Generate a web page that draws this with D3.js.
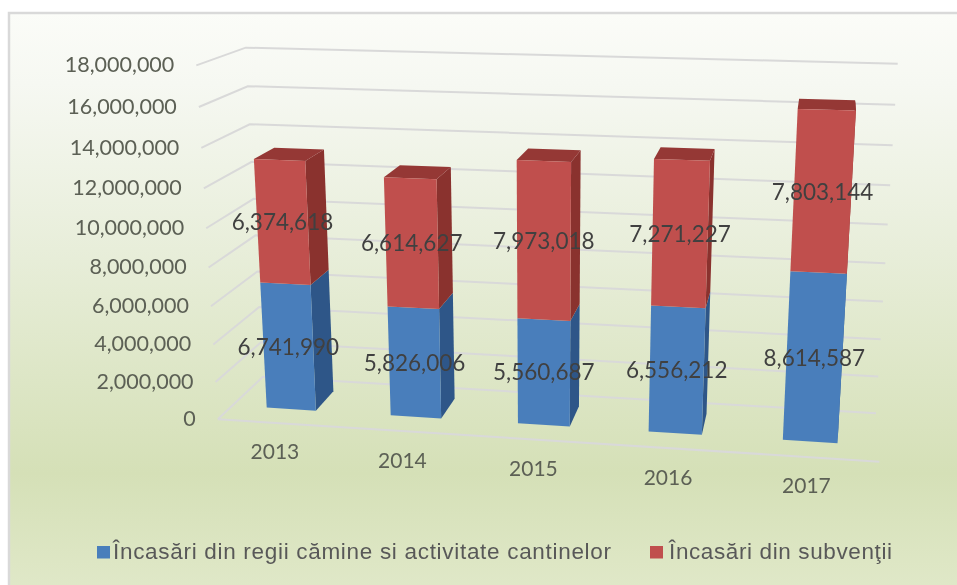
<!DOCTYPE html>
<html><head><meta charset="utf-8">
<style>html,body{margin:0;padding:0;background:#fff}svg{display:block}text{font-family:Lato,"Open Sans",sans-serif}</style>
<script src="https://cdn.jsdelivr.net/npm/d3@7"></script>
</head><body><svg id="c" width="957" height="585"></svg>
<script>
const years=["2013","2014","2015","2016","2017"];
const regii=[6741990,5826006,5560687,6556212,8614587];
const subventii=[6374618,6614627,7973018,7271227,7803144];
const seriesNames=["Încasări din regii cămine si activitate cantinelor","Încasări din subvenţii"];
const yTicks=[0,2e6,4e6,6e6,8e6,10e6,12e6,14e6,16e6,18e6];
const frontColors=["#4a7ebb","#c0504d"],sideColors=["#2f5788","#8a302e"],topColors=["#2f5788","#953735"];

// camera calibration: box points [x-frac,y-frac,depth-frac] -> picture
const calib=[[0,0,0,217,419],[1,0,0,880,462],[0,0,1,264,379],[1,0,1,875,413],[0,1,0,197,66],[0,1,1,245,47],[1,1,1,898,64],
  [0,.8889,0,199,108],[0,.5556,0,207,228],[0,.2222,0,212,343],[1,.5556,1,888,224],[1,.8889,1,895,105],[0,.8889,1,247,86],[0,.2222,1,260,306]];
function solveCamera(pts){
  const A=[],b=[];
  pts.forEach(([X,Y,Z,x,y])=>{x/=1000;y/=1000;
    A.push([X,Y,Z,1,0,0,0,0,-x*X,-x*Y,-x*Z]);b.push(x);
    A.push([0,0,0,0,X,Y,Z,1,-y*X,-y*Y,-y*Z]);b.push(y);});
  const n=11,N=d3.range(n).map(i=>d3.range(n+1).map(j=>{
    let s=0;A.forEach((r,k)=>{s+=r[i]*(j<n?r[j]:b[k]);});return s+(i===j?1e-12:0);}));
  for(let i=0;i<n;i++){let m=i;for(let k=i+1;k<n;k++)if(Math.abs(N[k][i])>Math.abs(N[m][i]))m=k;
    [N[i],N[m]]=[N[m],N[i]];
    for(let k=0;k<n;k++){if(k===i)continue;const f=N[k][i]/N[i][i];for(let j=i;j<=n;j++)N[k][j]-=f*N[i][j];}}
  return d3.range(n).map(i=>N[i][n]/N[i][i]);
}
const P=solveCamera(calib);
function proj(u,v,w){const d=P[8]*u+P[9]*v+P[10]*w+1;
  return [1000*(P[0]*u+P[1]*v+P[2]*w+P[3])/d,1000*(P[4]*u+P[5]*v+P[6]*w+P[7])/d];}

const vS=d3.scaleLinear().domain([0,18e6]).range([0,1]);
const uS=d3.scaleBand().domain(years).range([-0.004,1.001]).paddingInner(0.6).paddingOuter(0.3);
const w0=0.31,w1=0.76;
const fmt=d3.format(",");

const svg=d3.select("#c");
const defs=svg.append("defs");
const g=defs.append("linearGradient").attr("id","bg").attr("x1",0).attr("y1",0).attr("x2",0).attr("y2",1);
[[0,"#fbfcf8"],[0.12,"#f6f8f2"],[0.4,"#e8eeda"],[0.78,"#d5e0b7"],[1,"#e1e9ca"]].forEach(([o,c])=>g.append("stop").attr("offset",o).attr("stop-color",c));
defs.append("filter").attr("id","soft").append("feGaussianBlur").attr("stdDeviation",0.45);
const root=svg.append("g").attr("filter","url(#soft)");
root.append("rect").attr("x",9).attr("y",13).attr("width",960).attr("height",590).attr("fill","url(#bg)").attr("stroke","#d9d9d9").attr("stroke-width",2.5);

const line=d3.line();
const poly=pts=>line(pts)+"Z";
// gridlines
root.append("g").selectAll("path").data(yTicks).join("path")
  .attr("d",t=>{const v=vS(t);return line([proj(0,v,0),proj(0,v,1),proj(1,v,1)]);})
  .attr("fill","none").attr("stroke","#d9d9d9").attr("stroke-width",2);
root.append("path").attr("d",line([proj(0,0,0),proj(1,0,0)])).attr("fill","none").attr("stroke","#d9d9d9").attr("stroke-width",2);

// bars
const stacked=d3.stack().keys([0,1]).value((d,k)=>d[k])(years.map((y,i)=>[regii[i],subventii[i]]));
const bars=root.append("g");
years.forEach((y,i)=>{
  const a=uS(y),b=a+uS.bandwidth();
  stacked.forEach((s,k)=>{
    const lo=vS(s[i][0]),hi=vS(s[i][1]);
    bars.append("path").attr("d",poly([proj(b,lo,w0),proj(b,lo,w1),proj(b,hi,w1),proj(b,hi,w0)])).attr("fill",sideColors[k]);
    if(k===1)bars.append("path").attr("d",poly([proj(a,hi,w0),proj(b,hi,w0),proj(b,hi,w1),proj(a,hi,w1)])).attr("fill",topColors[k]);
    bars.append("path").attr("d",poly([proj(a,lo,w0),proj(b,lo,w0),proj(b,hi,w0),proj(a,hi,w0)])).attr("fill",frontColors[k]);
  });
});
// y axis labels
root.append("g").selectAll("text").data(yTicks).join("text")
  .attr("x",t=>proj(0,vS(t),0)[0]-22).attr("y",t=>proj(0,vS(t),0)[1]+1.5)
  .attr("text-anchor","end").attr("dominant-baseline","middle").attr("font-size",21.5).attr("fill","#5c6055")
  .text(t=>fmt(t));
// category labels
root.append("g").selectAll("text").data(years).join("text")
  .attr("x",y=>proj(uS(y)+uS.bandwidth()/2,0,0)[0]-3).attr("y",y=>proj(uS(y)+uS.bandwidth()/2,0,0)[1]+31)
  .attr("text-anchor","middle").attr("dominant-baseline","middle").attr("font-size",21).attr("fill","#5c6055")
  .text(y=>y);
// data labels
stacked.forEach((s,k)=>{
  root.append("g").selectAll("text").data(years).join("text")
    .attr("x",(y,i)=>proj(uS(y)+uS.bandwidth()/2,vS((s[i][0]+s[i][1])/2),w0)[0])
    .attr("y",(y,i)=>proj(uS(y)+uS.bandwidth()/2,vS((s[i][0]+s[i][1])/2),w0)[1]+2)
    .attr("text-anchor","middle").attr("dominant-baseline","middle").attr("font-size",22.5).attr("fill","#404040")
    .text((y,i)=>fmt(s[i][1]-s[i][0]));
});
// legend
const lg=[{x:97,tx:113,len:498},{x:650,tx:669,len:223}];
seriesNames.forEach((n,k)=>{
  root.append("rect").attr("x",lg[k].x).attr("y",546).attr("width",13).attr("height",12.5).attr("fill",frontColors[k]);
  root.append("text").attr("x",lg[k].tx).attr("y",558.5).attr("font-size",22.5).attr("fill","#595959")
    .style("font-family","'Liberation Sans',Arial,sans-serif").attr("textLength",lg[k].len).attr("lengthAdjust","spacing").text(n);
});
</script></body></html>
